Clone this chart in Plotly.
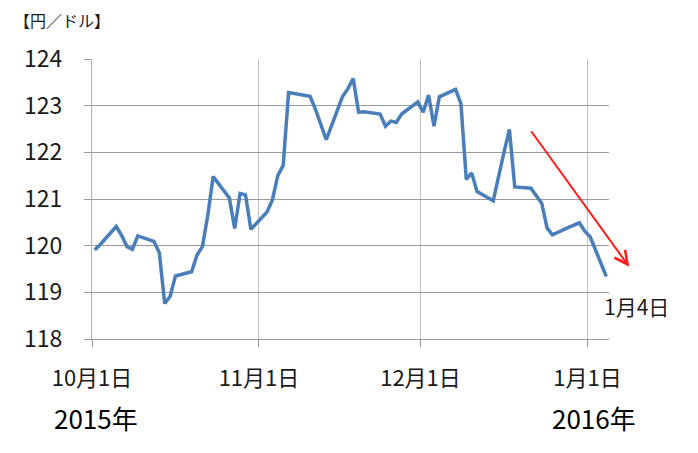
import pandas as pd
import plotly.graph_objects as go

# USD/JPY daily rate, Oct 2015 - Jan 2016
dates = [
    "2015-10-01", "2015-10-02", "2015-10-05", "2015-10-06", "2015-10-07", "2015-10-08", "2015-10-09",
    "2015-10-12", "2015-10-13", "2015-10-14", "2015-10-15", "2015-10-16",
    "2015-10-19", "2015-10-20", "2015-10-21", "2015-10-22", "2015-10-23",
    "2015-10-26", "2015-10-27", "2015-10-28", "2015-10-29", "2015-10-30",
    "2015-11-02", "2015-11-03", "2015-11-04", "2015-11-05", "2015-11-06",
    "2015-11-09", "2015-11-10", "2015-11-11", "2015-11-12", "2015-11-13",
    "2015-11-16", "2015-11-17", "2015-11-18", "2015-11-19", "2015-11-20",
    "2015-11-23", "2015-11-24", "2015-11-25", "2015-11-26", "2015-11-27",
    "2015-11-30", "2015-12-01", "2015-12-02", "2015-12-03", "2015-12-04",
    "2015-12-07", "2015-12-08", "2015-12-09", "2015-12-10", "2015-12-11",
    "2015-12-14", "2015-12-15", "2015-12-16", "2015-12-17", "2015-12-18",
    "2015-12-21", "2015-12-22", "2015-12-23", "2015-12-24", "2015-12-25",
    "2015-12-28", "2015-12-29", "2015-12-30", "2015-12-31", "2016-01-01",
    "2016-01-04",
]
rates = [
    119.91, 120.02, 120.41, 120.22, 119.98, 119.92, 120.21,
    120.09, 119.85, 118.76, 118.91, 119.35,
    119.44, 119.80, 119.98, 120.65, 121.48,
    121.02, 120.37, 121.12, 121.09, 120.35,
    120.72, 120.98, 121.50, 121.72, 123.28,
    123.22, 123.20, 122.92, 122.62, 122.27,
    123.19, 123.36, 123.58, 122.86, 122.87,
    122.82, 122.56, 122.67, 122.64, 122.82,
    123.08, 122.86, 123.23, 122.56, 123.19,
    123.35, 123.05, 121.42, 121.56, 121.16,
    120.96, 121.52, 122.00, 122.49, 121.26,
    121.23, 121.08, 120.91, 120.38, 120.23,
    120.39, 120.44, 120.49, 120.31, 120.19,
    119.34,
]
month_ticks = ["2015-10-01", "2015-11-01", "2015-12-01", "2016-01-01"]
month_labels = ["10月1日", "11月1日", "12月1日", "1月1日"]
y_ticks = [118, 119, 120, 121, 122, 123, 124]

FONT = "Noto Sans CJK JP"

# points sit in the middle of their day, like excel's "between tick marks"
x = pd.to_datetime(dates) + pd.Timedelta(hours=12)

fig = go.Figure()
fig.add_trace(go.Scatter(x=x, y=rates, mode="lines",
                         line=dict(color="#4A7EBB", width=3.5), hoverinfo="x+y"))

fig.update_xaxes(type="date", range=["2015-10-01", "2016-01-05"],
                 tickvals=month_ticks, ticktext=month_labels,
                 showgrid=True, gridcolor="#c0c0c0", gridwidth=1,
                 showline=True, linecolor="#9a9a9a", linewidth=1,
                 ticks="outside", ticklen=7, tickcolor="#9a9a9a",
                 ticklabelstandoff=13, automargin=False,
                 tickfont=dict(family=FONT, size=22, color="#1a1a1a"))
fig.update_yaxes(range=[118, 124], tickvals=y_ticks,
                 showgrid=True, gridcolor="#9a9a9a", gridwidth=1,
                 showline=True, linecolor="#b0b0b0", linewidth=1,
                 ticks="outside", ticklen=7, tickcolor="#9a9a9a",
                 ticklabelstandoff=17, zeroline=False, automargin=False,
                 tickfont=dict(family=FONT, size=23, color="#1a1a1a"))

annotations = [
    dict(text="【円／ドル】", x=-0.155, y=1.139, xanchor="left", yanchor="middle",
         font=dict(size=16)),
    dict(text="2015年", x=0.008, y=-0.282, xanchor="center", yanchor="middle",
         font=dict(size=26, color="black")),
    dict(text="2016年", x=0.971, y=-0.282, xanchor="center", yanchor="middle",
         font=dict(size=26, color="black")),
    dict(text="1月4日", x=0.986, y=0.118, xanchor="left", yanchor="middle",
         font=dict(size=21)),
]
for a in annotations:
    fig.add_annotation(xref="paper", yref="paper", showarrow=False, **a)

# red trend arrow
fig.add_annotation(xref="paper", yref="paper", x=1.039, y=0.258, ax=-99, ay=-137,
                   text="", showarrow=True, arrowhead=5, arrowsize=1.3,
                   arrowwidth=2, arrowcolor="#ff1a1a")

# the page body adds 8px, so the figure is 8px smaller than the window
fig.update_layout(width=690, height=445,
                  margin=dict(l=84, r=89, t=51, b=114),
                  plot_bgcolor="white", paper_bgcolor="white",
                  showlegend=False,
                  font=dict(family=FONT, size=18, color="#1a1a1a"))

fig.write_html("out.html")
